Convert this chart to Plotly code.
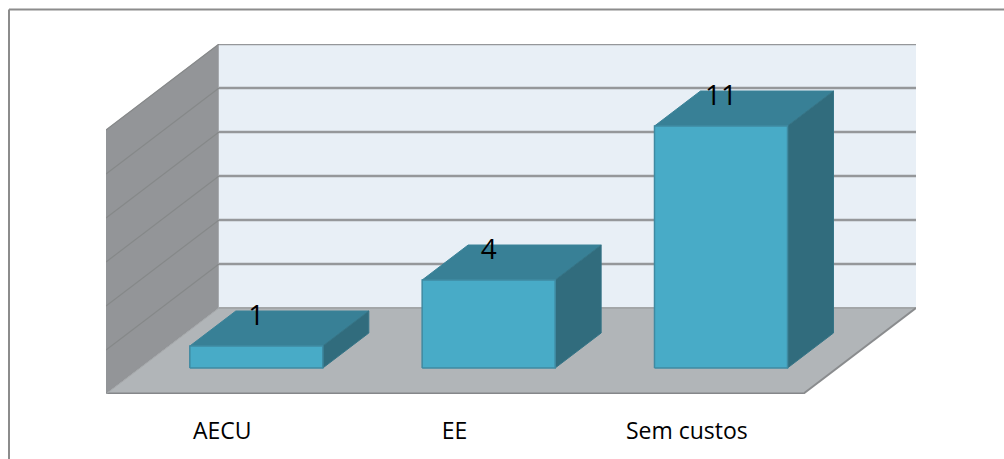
import plotly.graph_objects as go

categories = ["AECU", "EE", "Sem custos"]
values = [1, 4, 11]
wall_ticks = [0, 2, 4, 6, 8, 10, 12]

# Pixel geometry of the oblique projection
PX_L, PX_R, PX_T, PX_B = 106, 916, 44, 394
UX = 697 / 3          # px per category
UY = 22               # px per value unit
DX = 113 / UX         # x shift of full depth, category units
DY = 86 / UY          # y shift of full depth, value units
BAR_W = 133 / UX
D0, D1 = 26 / 86, 61 / 86
LABEL_LIFT = 28 / UY
XMIN = -0.5
XMAX = XMIN + (PX_R - PX_L) / UX
YMAX = (PX_B - PX_T) / UY
VMAX = max(wall_ticks)


def proj(x, v, d):
    return x + d * DX, v + d * DY


def poly(points, fill, line=None, width=0):
    xs, ys = zip(*[proj(*p) for p in points + points[:1]])
    return go.Scatter(x=xs, y=ys, mode="lines", fill="toself", fillcolor=fill,
                      line=dict(color=line or fill, width=width or 0.5),
                      hoverinfo="skip", showlegend=False, cliponaxis=False)


def seg(a, b, color, width):
    xs, ys = zip(proj(*a), proj(*b))
    return go.Scatter(x=xs, y=ys, mode="lines", line=dict(color=color, width=width),
                      hoverinfo="skip", showlegend=False, cliponaxis=False)


fig = go.Figure()
XR = XMIN + 3  # right end of the front floor edge

# walls
fig.add_trace(poly([(XMIN, 0, 0), (XMIN, VMAX, 0), (XMIN, VMAX, 1), (XMIN, 0, 1)], "#939598"))
fig.add_trace(poly([(XMIN, 0, 1), (XMIN, VMAX, 1), (XR, VMAX, 1), (XR, 0, 1)], "#e8eff6"))

# gridlines on both walls
for t in wall_ticks[1:]:
    fig.add_trace(seg((XMIN, t, 0), (XMIN, t, 1), "#868889", 1.2))
    fig.add_trace(seg((XMIN, t, 1), (XR, t, 1), "#95979a", 2.5))

# floor
fig.add_trace(poly([(XMIN, 0, 0), (XMIN, 0, 1), (XR, 0, 1), (XR, 0, 0)], "#b1b5b8"))
fig.add_trace(seg((XMIN, 0, 1), (XR, 0, 1), "#a3a6a8", 2))
fig.add_trace(seg((XR, 0, 1), (XR, 0, 0), "#8a8c8e", 2))
fig.add_trace(seg((XMIN, 0, 0), (XR, 0, 0), "#85878a", 3))
fig.add_trace(seg((XMIN, 0, 0), (XMIN, 0, 1), "#a5a8aa", 1))

# bars
for i, v in enumerate(values):
    a, b = i - BAR_W / 2, i + BAR_W / 2
    fig.add_trace(poly([(a, v, D0), (a, v, D1), (b, v, D1), (b, v, D0)], "#388096", "#3a8298", 1))
    fig.add_trace(poly([(b, 0, D0), (b, v, D0), (b, v, D1), (b, 0, D1)], "#316c7d", "#357486", 1))
    fig.add_trace(poly([(a, 0, D0), (a, v, D0), (b, v, D0), (b, 0, D0)], "#48abc7", "#3f8aa2", 1.5))

# data labels
lx, ly = zip(*[proj(i, v + LABEL_LIFT, D0) for i, v in enumerate(values)])
fig.add_trace(go.Scatter(x=lx, y=ly, mode="text", text=[str(v) for v in values],
                         textposition="middle center",
                         textfont=dict(family="Open Sans", size=28, color="#000000"),
                         hoverinfo="skip", showlegend=False, cliponaxis=False))

# chart frame (top and left edges only)
fx0 = (9 - PX_L) / (PX_R - PX_L)
fx1 = (1004 - PX_L) / (PX_R - PX_L)
fy = (PX_B - 9.5) / (PX_B - PX_T)
fy0 = (PX_B - 459) / (PX_B - PX_T)
frame = dict(type="line", xref="paper", yref="paper", line=dict(color="#8c8c8c", width=2))

fig.update_layout(
    width=1004, height=459, autosize=False,
    margin=dict(l=PX_L, r=1004 - PX_R, t=PX_T, b=459 - PX_B, pad=0),
    paper_bgcolor="#ffffff", plot_bgcolor="rgba(0,0,0,0)",
    shapes=[dict(frame, x0=fx0, x1=fx1, y0=fy, y1=fy), dict(frame, x0=fx0, x1=fx0, y0=fy0, y1=fy)],
    xaxis=dict(range=[XMIN, XMAX], tickmode="array", tickvals=list(range(len(categories))),
               ticktext=categories, showgrid=False, zeroline=False, showline=False,
               ticks="outside", ticklen=16, tickcolor="rgba(0,0,0,0)",
               tickfont=dict(family="Open Sans", size=23, color="#000000")),
    yaxis=dict(range=[0, YMAX], showgrid=False, zeroline=False, showline=False,
               showticklabels=False, ticks=""),
)

fig.write_html("out.html", config={"displayModeBar": False},
               post_script="document.body.style.margin='0';")
